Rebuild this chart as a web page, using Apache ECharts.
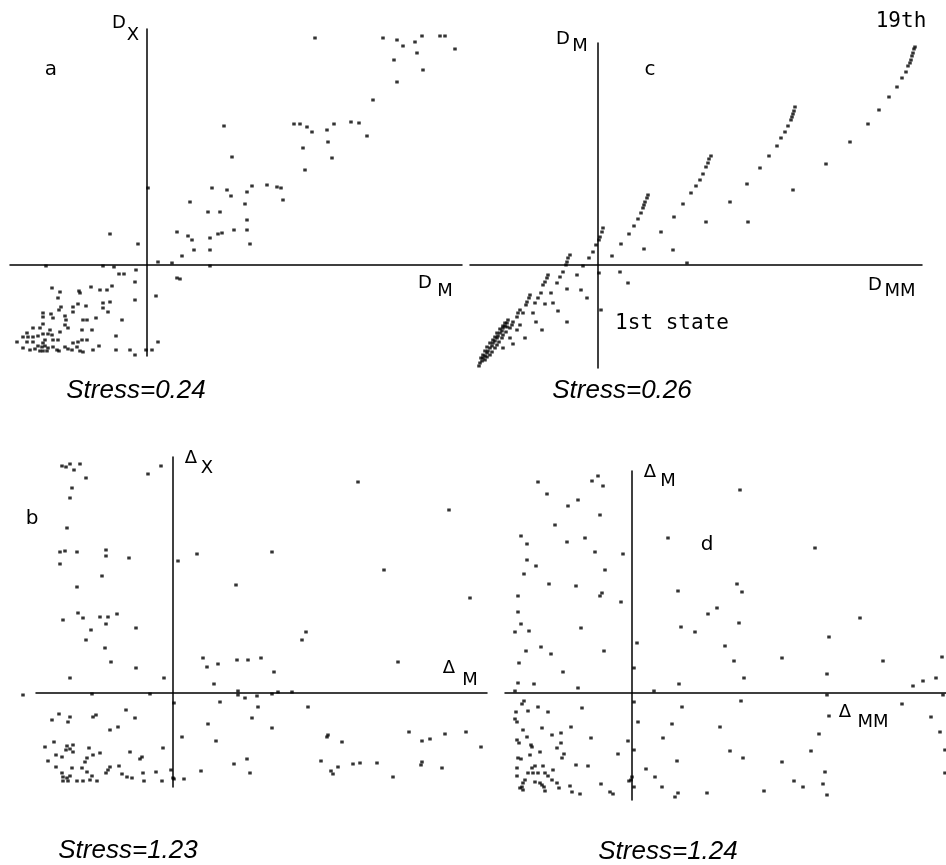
<!DOCTYPE html>
<html>
<head>
<meta charset="utf-8">
<script src="https://cdn.jsdelivr.net/npm/echarts@6/dist/echarts.min.js"></script>
<style>
  html, body { margin: 0; padding: 0; background: #fff; }
  #chart { width: 946px; height: 865px; }
</style>
</head>
<body>
<div id="chart"></div>
<script>
// 四个散点面板 a, c, b, d
var chart = echarts.init(document.getElementById('chart'));

// 面板 a：D_M 对 D_X
var pointsA = [
    [168,227],[236,227],[250,225],[256,219],[268,223],[275,229],[293,229],[298,229],[308,216],[270,212],
    [247,205],[276,195],[250,183],[226,165],
    [147,141],[153,141],[160,138],[165,133],[180,135],[187,141],[204,143],[212,142],[220,129],[181,123],
    [156,117],[185,107],[158,95],[77,139],[85,108],
    [1,77],[65,77],[80,75],[84,69],[100,73],[105,79],[120,80],[130,78],[134,77],[136,65],[43,63],[61,53],
    [73,53],[98,61],[100,45],[100,35],[87,35],[75,32],[71,31],[63,27],[103,21],[30,33],[41,29],[45,25],
    [47,15],[63,15],[35,9],[-37,31],[-9,21],
    [11,3],[25,2],[63,-1],[30,-13],[33,-14],[9,-31],[11,-77],[5,-85],[-1,-85],[-12,-90],[-17,-85],
    [-31,-85],[-31,-71],[-25,-55],[-12,-35],[-12,-17],[-11,-5],[-23,-9],[-28,-9],[-33,-2],[-44,-1],[-101,-1],
    [-95,-23],[-87,-27],[-68,-26],[-67,-28],[-56,-22],[-47,-25],[-40,-25],[-35,-21],[-89,-33],[-86,-42],
    [-88,-45],[-74,-42],[-69,-39],[-61,-41],[-74,-47],[-44,-38],[-44,-43],[-37,-37],[-39,-47],[-104,-48],
    [-104,-52],[-96,-49],[-94,-53],[-82,-51],[-81,-55],[-51,-53],[-64,-55],[-60,-55],[-104,-59],[-82,-60],
    [-79,-63],[-97,-65],[-107,-63],[-114,-63],[-65,-65],[-55,-65],[-87,-67],[-120,-68],[-124,-72],[-119,-72],
    [-114,-72],[-109,-71],[-104,-69],[-99,-69],[-95,-70],[-102,-75],[-104,-78],[-130,-77],[-120,-77],[-114,-77],
    [-94,-75],[-89,-75],[-69,-77],[-65,-75],[-60,-75],[-74,-78],[-124,-83],[-117,-85],[-112,-84],[-109,-81],
    [-105,-82],[-102,-81],[-99,-83],[-107,-86],[-104,-86],[-100,-86],[-94,-82],[-90,-85],[-88,-86],[-82,-82],
    [-79,-84],[-75,-85],[-70,-82],[-67,-86],[-64,-87],[-54,-85],[-48,-81]
];

// 面板 c：D_MM 对 D_M（1st state ... 19th）
var pointsC = [
    [317,218],[316,216],[315,212],[314,209],[313,205],[312,202],[310,199],[308,193],[304,187],[299,178],
    [291,168],[281,155],[270,141],[252,123],[228,101],[195,75],[150,43],[108,43],
    [197,158],[196,154],[195,151],[194,148],[193,145],[190,139],[187,133],[183,127],[179,119],[171,109],
    [162,97],[149,81],[132,63],
    [113,109],[111,106],[110,102],[108,98],[105,91],[102,85],[98,79],[93,72],[85,61],[76,48],[63,33],
    [75,15],[89,2],[46,16],
    [50,70],[49,67],[47,63],[46,60],[45,57],[43,52],[40,46],[36,39],[31,31],[23,21],[14,9],[22,-7],[30,-18],
    [5,37],[4,33],[2,28],[1,25],[-2,20],[-5,13],[-9,7],[-15,-1],[-21,-10],[-17,-25],[-11,-33],[3,-45],
    [1,-8],[-31,-57],
    [-28,10],[-30,7],[-31,3],[-32,0],[-35,-7],[-38,-12],[-41,-18],[-31,-24],[-47,-28],[-45,-38],[-40,-46],
    [-50,-10],[-51,-13],[-53,-17],[-55,-20],[-57,-28],[-60,-33],[-63,-38],[-53,-39],[-62,-57],[-56,-65],
    [-68,-30],[-69,-33],[-71,-37],[-72,-40],[-65,-48],[-75,-48],[-73,-73],[-78,-45],[-80,-48],[-81,-52],
    [-78,-60],[-85,-57],[-86,-60],[-88,-63],[-81,-65],[-88,-73],[-85,-79],[-95,-83],
    [-91,-58],[-93,-61],[-95,-63],[-96,-66],[-98,-68],[-100,-71],[-101,-73],[-103,-76],[-105,-78],[-106,-81],
    [-108,-83],[-110,-86],[-111,-88],[-113,-91],[-115,-93],[-116,-96],[-118,-98],[-119,-101],
    [-91,-62],[-92,-67],[-95,-70],[-96,-73],[-99,-77],[-101,-80],[-103,-83],[-106,-87],[-108,-90],[-111,-92],
    [-113,-95],
    [-90,-55],[-93,-58],[-95,-61],[-98,-64],[-101,-68],[-103,-72],[-105,-75],[-108,-78],[-111,-82],[-113,-86],
    [-115,-90],[-117,-93]
];

// 面板 b：Δ_M 对 Δ_X
var pointsB = [
    [-111,227],[-107,226],[-103,229],[-99,223],[-93,229],[-87,215],[-101,205],[-103,195],[-106,165],[-113,141],
    [-108,142],[-113,129],[-96,141],[-67,143],[-67,137],[-44,135],[-71,117],[-96,106],[-110,73],[-95,80],
    [-90,75],[-73,76],[-65,76],[-56,79],[-67,69],[-82,63],[-87,53],[-37,65],[-68,45],[-62,31],[-37,25],
    [-103,15],[-9,15],[-25,219],[-12,227],
    [5,132],[24,139],[63,108],[99,141],[185,211],[276,183],[211,123],[297,95],[133,61],[129,53],[225,31],
    [30,35],[34,26],[45,29],[64,33],[75,33],[88,35],[101,21],[41,9],
    [65,2],[72,-5],[84,-3],[99,-1],[105,1],[119,1],[65,-2],[85,-14],[47,-9],[79,-25],[99,-35],[135,-14],
    [35,-31],[43,-48],[9,-44],[1,-10],[-81,-1],[-23,-1],[-150,-2],
    [155,-42],[154,-44],[169,-49],[148,-68],[158,-78],[160,-81],[165,-74],[180,-71],[187,-70],[204,-70],
    [220,-84],[236,-39],[249,-48],[257,-46],[272,-41],[293,-39],[308,-54],[249,-69],[248,-72],[269,-75],
    [61,-71],[74,-66],[77,-80],[28,-78],[11,-86],[1,-86],[-2,-77],
    [-114,-21],[-121,-27],[-103,-24],[-105,-29],[-80,-24],[-77,-22],[-47,-17],[-38,-25],[-63,-37],[-55,-34],
    [-128,-54],[-119,-49],[-106,-53],[-100,-52],[-103,-56],[-100,-59],[-107,-57],[-117,-62],[-111,-64],[-84,-55],
    [-80,-62],[-73,-60],[-86,-65],[-88,-69],[-43,-59],[-31,-64],[-33,-66],[-10,-55],[-125,-68],[-117,-74],
    [-101,-75],[-91,-75],[-63,-74],[-65,-77],[-67,-80],[-54,-73],[-86,-79],[-81,-83],[-111,-80],[-110,-84],
    [-106,-85],[-103,-83],[-110,-88],[-105,-88],[-96,-88],[-90,-88],[-83,-87],[-76,-88],[-51,-81],[-46,-84],
    [-41,-85],[-30,-80],[-29,-88],[-17,-79],[-11,-88],[0,-85]
];

// 面板 d：Δ_MM 对 Δ_M
var pointsD = [
    [-94,211],[-85,199],[-40,212],[-34,217],[-29,207],[-64,187],[-54,193],[-32,178],[-77,168],[-111,157],
    [-105,149],[-65,151],[-47,155],[-37,141],[-9,139],[-105,133],[-96,127],[-108,119],[-27,123],[-83,109],
    [-56,107],[-30,100],[-32,97],[-11,91],[-114,97],[-114,81],[-111,69],[-117,61],[-103,62],[-51,65],
    [-106,42],[-91,46],[-81,39],[-28,42],[-113,30],[-69,21],[-114,10],[-98,9],[-117,2],[-54,5],
    [2,-9],[6,-29],[-108,-8],[-110,-11],[-104,-18],[-94,-14],[-116,-19],[-84,-19],[-50,-15],[-117,-26],
    [-115,-29],[-109,-37],[-105,-44],[-90,-35],[-80,-42],[-71,-40],[-61,-34],[-41,-45],[-115,-47],[-113,-50],
    [-71,-50],[-101,-52],[-100,-54],[-75,-55],[-4,-48],[2,-57],[-92,-59],[-102,-62],[-68,-61],[-114,-65],
    [-111,-66],[-70,-65],[-14,-61],[-56,-72],[-44,-73],[-115,-75],[-100,-75],[-97,-73],[-89,-73],[-79,-77],
    [-104,-80],[-99,-80],[-94,-80],[-87,-80],[-84,-83],[-115,-83],[-107,-87],[-109,-90],[-110,-94],[-97,-89],
    [-92,-90],[-90,-92],[-88,-94],[-87,-98],[-80,-87],[-75,-90],[-73,-95],[-112,-95],[-109,-97],[-62,-93],
    [-60,-99],[-52,-101],[-31,-91],[-22,-99],[-19,-101],[-1,-87],[-3,-88],[2,-94],[0,-84],
    [36,155],[108,203],[183,145],[46,102],[105,109],[110,101],[85,85],[76,79],[107,70],[49,66],
    [63,61],[228,75],[197,56],[93,47],[102,32],[150,35],[251,32],[310,36],[5,50],[2,25],
    [112,15],[195,19],[47,9],[22,2],[281,7],[291,12],[304,15],[195,-2],[311,-2],[109,-8],
    [50,-14],[270,-11],[197,-23],[40,-31],[88,-34],[299,-24],[308,-39],[187,-41],[31,-45],[98,-58],
    [179,-58],[111,-65],[45,-68],[150,-69],[193,-79],[14,-76],[23,-84],[30,-94],[162,-88],[171,-94],
    [191,-91],[195,-102],[132,-98],[75,-100],[46,-100],[43,-104],[313,-57],[313,-80]
];

var stressLabels = ['Stress=0.24', 'Stress=0.26', 'Stress=1.23', 'Stress=1.24'];
var panelLetters = ['a', 'c', 'b', 'd'];

// 面板位置（像素）与坐标范围
var grids = [
    { left: 10, top: 29, width: 452, height: 327 },
    { left: 470, top: 43, width: 452, height: 325 },
    { left: 36, top: 457, width: 451, height: 330 },
    { left: 505, top: 471, width: 441, height: 329 }
];
var xRanges = [[-137, 315], [-128, 324], [-137, 314], [-127, 314]];
var yRanges = [[-91, 236], [-103, 222], [-94, 236], [-107, 222]];

function makeAxis(idx, range) {
    return {
        type: 'value',
        gridIndex: idx,
        min: range[0],
        max: range[1],
        axisLine: { show: true, onZero: true, lineStyle: { color: '#000', width: 1.5 } },
        axisTick: { show: false },
        axisLabel: { show: false },
        splitLine: { show: false }
    };
}

function makeSeries(idx, data) {
    return {
        type: 'scatter',
        xAxisIndex: idx,
        yAxisIndex: idx,
        data: data,
        symbol: 'rect',
        symbolSize: [3.5, 3],
        itemStyle: { color: '#000' },
        clip: false,
        silent: true
    };
}

function txt(s, x, y, font) {
    return {
        type: 'text',
        x: x,
        y: y,
        silent: true,
        style: {
            text: s,
            font: font,
            fill: '#000',
            align: 'center',
            verticalAlign: 'middle',
            textAlign: 'center',
            textVerticalAlign: 'middle'
        }
    };
}

var labelFont = '18px "DejaVu Sans"';
var letterFont = '20px "DejaVu Sans"';
var monoFont = '21px "DejaVu Sans Mono"';
var stressFont = 'italic 26px "Liberation Sans Narrow", "Liberation Sans"';

var graphics = [
    // 面板字母
    txt(panelLetters[0], 51, 70, letterFont),
    txt(panelLetters[1], 650, 70, letterFont),
    txt(panelLetters[2], 32, 519, letterFont),
    txt(panelLetters[3], 707, 545, letterFont),
    // 坐标轴名称
    txt('D', 119, 23, labelFont), txt('X', 133, 35, labelFont),
    txt('D', 425, 283, labelFont), txt('M', 445, 291, labelFont),
    txt('D', 563, 39, labelFont), txt('M', 580, 46, labelFont),
    txt('D', 875, 285, labelFont), txt('MM', 900, 291, labelFont),
    txt('Δ', 191, 458, labelFont), txt('X', 207, 468, labelFont),
    txt('Δ', 449, 668, labelFont), txt('M', 470, 680, labelFont),
    txt('Δ', 650, 472, labelFont), txt('M', 668, 481, labelFont),
    txt('Δ', 845, 712, labelFont), txt('MM', 873, 722, labelFont),
    // 注释
    txt('19th', 901, 22, monoFont),
    txt('1st state', 672, 324, monoFont),
    // Stress
    txt(stressLabels[0], 136, 391, stressFont),
    txt(stressLabels[1], 622, 391, stressFont),
    txt(stressLabels[2], 128, 851, stressFont),
    txt(stressLabels[3], 668, 852, stressFont)
];

var option = {
    backgroundColor: '#fff',
    animation: false,
    grid: grids.map(function (g) { return Object.assign({ containLabel: false, outerBoundsMode: 'none' }, g); }),
    xAxis: xRanges.map(function (r, i) { return makeAxis(i, r); }),
    yAxis: yRanges.map(function (r, i) { return makeAxis(i, r); }),
    series: [
        makeSeries(0, pointsA),
        makeSeries(1, pointsC),
        makeSeries(2, pointsB),
        makeSeries(3, pointsD)
    ],
    graphic: graphics
};

chart.setOption(option);
</script>
</body>
</html>
